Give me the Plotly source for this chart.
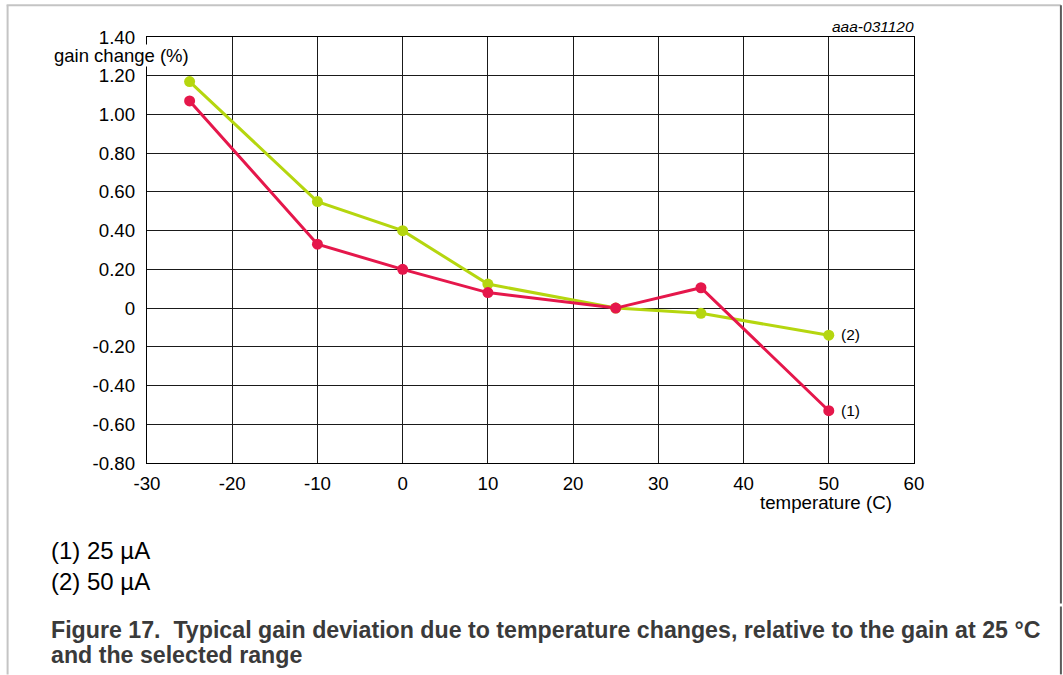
import plotly.graph_objects as go

temperature = [-25, -10, 0, 10, 25, 35, 50]
gain_25uA = [1.07, 0.33, 0.20, 0.08, 0.00, 0.105, -0.53]
gain_50uA = [1.17, 0.55, 0.40, 0.124, 0.00, -0.027, -0.14]

x_ticks = [-30, -20, -10, 0, 10, 20, 30, 40, 50, 60]
y_ticks = [1.40, 1.20, 1.00, 0.80, 0.60, 0.40, 0.20, 0, -0.20, -0.40, -0.60, -0.80]
y_ticktext = ["1.40", "1.20", "1.00", "0.80", "0.60", "0.40", "0.20", "0",
              "-0.20", "-0.40", "-0.60", "-0.80"]

RED = "#e5174b"
GREEN = "#b5d60f"
FONT = "Liberation Sans, Arial, sans-serif"

W, H = 1063, 675
L, R, T, B = 146.5, 914.0, 36.7, 463.3


def px(xp):
    return (xp - L) / (R - L)


def py(yp):
    return (B - yp) / (B - T)


fig = go.Figure()
fig.add_trace(go.Scatter(x=temperature, y=gain_50uA, mode="lines+markers",
                         line=dict(color=GREEN, width=3),
                         marker=dict(color=GREEN, size=11), showlegend=False))
fig.add_trace(go.Scatter(x=temperature, y=gain_25uA, mode="lines+markers",
                         line=dict(color=RED, width=3),
                         marker=dict(color=RED, size=11), showlegend=False))

axis_common = dict(showgrid=True, gridcolor="#1a1a1a", gridwidth=1.2,
                   showline=True, linecolor="#000", linewidth=1.3, mirror=True,
                   zeroline=False, ticks="", tickfont=dict(family=FONT, size=18.7, color="#000"))

fig.update_xaxes(range=[-30, 60], tickvals=x_ticks, ticktext=[str(v) for v in x_ticks],
                 ticklabelstandoff=3, **axis_common)
fig.update_yaxes(range=[-0.80, 1.40], tickvals=y_ticks, ticktext=y_ticktext,
                 ticklabelstandoff=7, **axis_common)

annotations = [
    dict(x=px(52), y=py(55), xref="paper", yref="paper", text="gain change (%)",
         showarrow=False, xanchor="left", yanchor="middle", bgcolor="white",
         font=dict(family=FONT, size=18.5, color="#000"), borderpad=0),
    dict(x=px(894), y=py(503), xref="paper", yref="paper", text="temperature (C)",
         showarrow=False, xanchor="right", yanchor="middle",
         font=dict(family=FONT, size=18.7, color="#000")),
    dict(x=px(916), y=py(26), xref="paper", yref="paper", text="<i>aaa-031120</i>",
         showarrow=False, xanchor="right", yanchor="middle",
         font=dict(family=FONT, size=15.5, color="#000")),
    dict(x=px(839), y=py(411), xref="paper", yref="paper", text="(1)",
         showarrow=False, xanchor="left", yanchor="middle",
         font=dict(family=FONT, size=15.5, color="#000")),
    dict(x=px(839), y=py(335), xref="paper", yref="paper", text="(2)",
         showarrow=False, xanchor="left", yanchor="middle",
         font=dict(family=FONT, size=15.5, color="#000")),
    dict(x=px(48), y=py(551), xref="paper", yref="paper", text="(1) 25 µA",
         showarrow=False, xanchor="left", yanchor="middle",
         font=dict(family=FONT, size=24, color="#000")),
    dict(x=px(48), y=py(582), xref="paper", yref="paper", text="(2) 50 µA",
         showarrow=False, xanchor="left", yanchor="middle",
         font=dict(family=FONT, size=24, color="#000")),
    dict(x=px(48), y=py(631), xref="paper", yref="paper",
         text="<b>Figure 17.  Typical gain deviation due to temperature changes, relative to the gain at 25 °C</b>",
         showarrow=False, xanchor="left", yanchor="middle",
         font=dict(family=FONT, size=23.2, color="#3a3a3a")),
    dict(x=px(48), y=py(656), xref="paper", yref="paper",
         text="<b>and the selected range</b>",
         showarrow=False, xanchor="left", yanchor="middle",
         font=dict(family=FONT, size=23.2, color="#3a3a3a")),
]

shapes = [
    dict(type="line", xref="paper", yref="paper", x0=px(6), x1=px(1061), y0=py(5), y1=py(5),
         line=dict(color="#c4c4c4", width=2)),
    dict(type="line", xref="paper", yref="paper", x0=px(7), x1=px(7), y0=py(5), y1=py(675),
         line=dict(color="#c4c4c4", width=2)),
    dict(type="line", xref="paper", yref="paper", x0=px(1061), x1=px(1061), y0=py(5), y1=py(604),
         line=dict(color="#5a5a5a", width=2)),
    dict(type="line", xref="paper", yref="paper", x0=px(1061), x1=px(1061), y0=py(607), y1=py(675),
         line=dict(color="#5a5a5a", width=2)),
]

fig.update_layout(width=W, height=H, margin=dict(l=L, r=W - R, t=T, b=H - B),
                  paper_bgcolor="white", plot_bgcolor="white",
                  annotations=annotations, shapes=shapes,
                  font=dict(family=FONT))

fig.write_html("out.html")
